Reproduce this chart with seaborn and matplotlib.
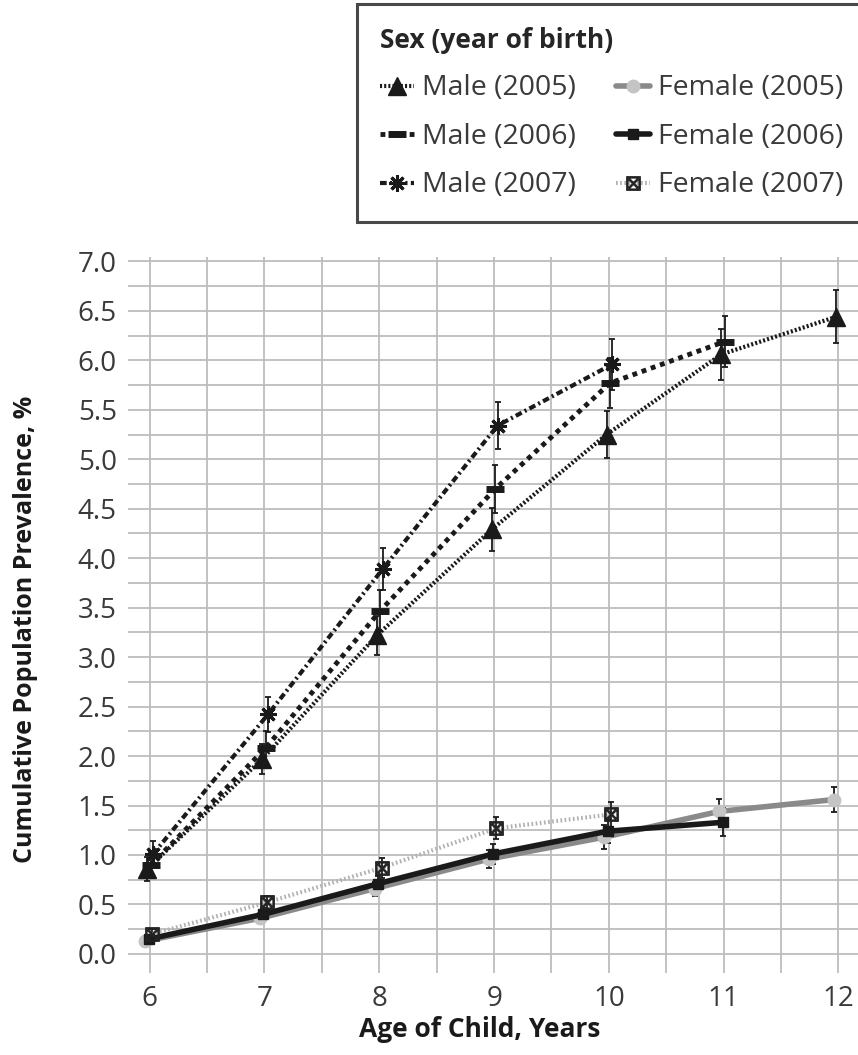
"""
Cumulative population prevalence by age of child, split by sex and year of birth.
"""

import pandas as pd
import matplotlib.pyplot as plt
import seaborn as sns

sns.set_style('white')
plt.rcParams['font.family'] = ['Open Sans', 'DejaVu Sans']

# data
ages = [6, 7, 8, 9, 10, 11, 12]

male_2005 = [0.86, 1.97, 3.22, 4.29, 5.25, 6.06, 6.44]
male_2005_err = [0.12, 0.15, 0.20, 0.22, 0.24, 0.26, 0.27]
male_2006 = [0.90, 2.08, 3.47, 4.70, 5.77, 6.19]
male_2006_err = [0.12, 0.17, 0.21, 0.24, 0.25, 0.26]
male_2007 = [1.01, 2.42, 3.89, 5.34, 5.96]
male_2007_err = [0.13, 0.18, 0.21, 0.24, 0.26]

female_2005 = [0.13, 0.36, 0.66, 0.96, 1.18, 1.44, 1.56]
female_2005_err = [0.03, 0.05, 0.07, 0.09, 0.12, 0.13, 0.13]
female_2006 = [0.15, 0.40, 0.71, 1.01, 1.24, 1.33]
female_2006_err = [0.04, 0.06, 0.08, 0.10, 0.12, 0.14]
female_2007 = [0.20, 0.52, 0.87, 1.27, 1.41]
female_2007_err = [0.05, 0.07, 0.10, 0.11, 0.13]

series = [
    ('Male (2005)', male_2005, male_2005_err),
    ('Male (2006)', male_2006, male_2006_err),
    ('Male (2007)', male_2007, male_2007_err),
    ('Female (2005)', female_2005, female_2005_err),
    ('Female (2006)', female_2006, female_2006_err),
    ('Female (2007)', female_2007, female_2007_err),
]

styles = {
    'Male (2005)': dict(color='#1a1a1a', lw=3, linestyle=(0, (0.5, 0.5)), marker='^',
                        ms=13, mfc='#1a1a1a', mec='#1a1a1a', dodge=-0.02),
    'Male (2006)': dict(color='#1a1a1a', lw=3.5, linestyle=(0, (1, 1)), marker='_',
                        ms=13, mew=5, mfc='#1a1a1a', mec='#1a1a1a', dodge=0.01),
    'Male (2007)': dict(color='#1a1a1a', lw=3, linestyle=(0, (1.6, 0.8, 0.5, 0.8)), marker=(8, 2, 0),
                        ms=12, mew=2.2, mfc='#1a1a1a', mec='#1a1a1a', dodge=0.03),
    'Female (2005)': dict(color='#8a8a8a', lw=4, linestyle='-', marker='o',
                          ms=9, mfc='#c4c4c4', mec='#c4c4c4', dodge=-0.04),
    'Female (2006)': dict(color='#1a1a1a', lw=4, linestyle='-', marker='s',
                          ms=7, mfc='#1a1a1a', mec='#1a1a1a', dodge=-0.01),
    'Female (2007)': dict(color='#b0b0b0', lw=3, linestyle=(0, (0.4, 0.6)), marker=r'$\boxtimes$',
                          ms=10, mew=0.6, mfc='#222222', mec='#222222', dodge=0.02),
}

fig = plt.figure(figsize=(8.58, 10.55), dpi=100)
ax = fig.add_axes([0.149, 0.078, 0.851, 0.678])

for name, vals, errs in series:
    st = dict(styles[name])
    dodge = st.pop('dodge')
    df = pd.DataFrame({'age': [a + dodge for a in ages[:len(vals)]], 'value': vals, 'err': errs})
    ax.errorbar(df['age'], df['value'], yerr=df['err'], fmt='none', ecolor='#1a1a1a',
                elinewidth=1.3, capsize=2.5, capthick=1.3, zorder=2)
    sns.lineplot(data=df, x='age', y='value', ax=ax, label=name, errorbar=None,
                 color=st['color'], linewidth=st['lw'], linestyle=st['linestyle'],
                 marker=st['marker'], markersize=st['ms'], markerfacecolor=st['mfc'],
                 markeredgecolor=st['mec'], markeredgewidth=st.get('mew', 1), zorder=3)

ax.set_xlim(5.81, 12.17)
ax.set_ylim(-0.19, 7.04)
ax.set_xticks(ages)
ax.set_xticks([a + 0.5 for a in ages[:-1]], minor=True)
ax.set_yticks([i * 0.5 for i in range(15)])
ax.set_yticks([i * 0.5 + 0.25 for i in range(14)], minor=True)
ax.set_yticklabels([f'{i * 0.5:.1f}' for i in range(15)])
ax.grid(True, which='both', color='#bdbdbd', linewidth=1.3)
ax.set_axisbelow(True)
for sp in ax.spines.values():
    sp.set_visible(False)
ax.tick_params(axis='both', which='both', length=0, labelsize=20, colors='#3a3a3a')
ax.tick_params(axis='x', pad=9)
ax.tick_params(axis='y', pad=8)

ax.set_xlabel('Age of Child, Years', fontsize=19, fontweight='bold', color='#1a1a1a')
ax.xaxis.set_label_coords(0.482, -0.08)
ax.xaxis.label.set_va('center')
ax.set_ylabel('Cumulative Population Prevalence, %', fontsize=18, fontweight='bold',
              color='#1a1a1a')
ax.yaxis.set_label_coords(-0.14, 0.48)
ax.yaxis.label.set_va('center')

handles, labels = ax.get_legend_handles_labels()
ax.legend_.remove()
leg = fig.legend(handles, labels, ncol=2, loc='upper left', bbox_to_anchor=(0.416, 0.996),
                 title='Sex (year of birth)', fontsize=20.5, title_fontsize=19,
                 frameon=True, fancybox=False, edgecolor='#1a1a1a', handlelength=1.2,
                 handletextpad=0.28, columnspacing=1.4, labelspacing=0.72, borderpad=0.8,
                 borderaxespad=0)
leg.get_frame().set_linewidth(2.2)
leg._legend_box.align = 'left'
leg.get_title().set_fontweight('bold')
for t in leg.get_texts():
    t.set_color('#3a3a3a')

fig.savefig('out.png', dpi=100)
